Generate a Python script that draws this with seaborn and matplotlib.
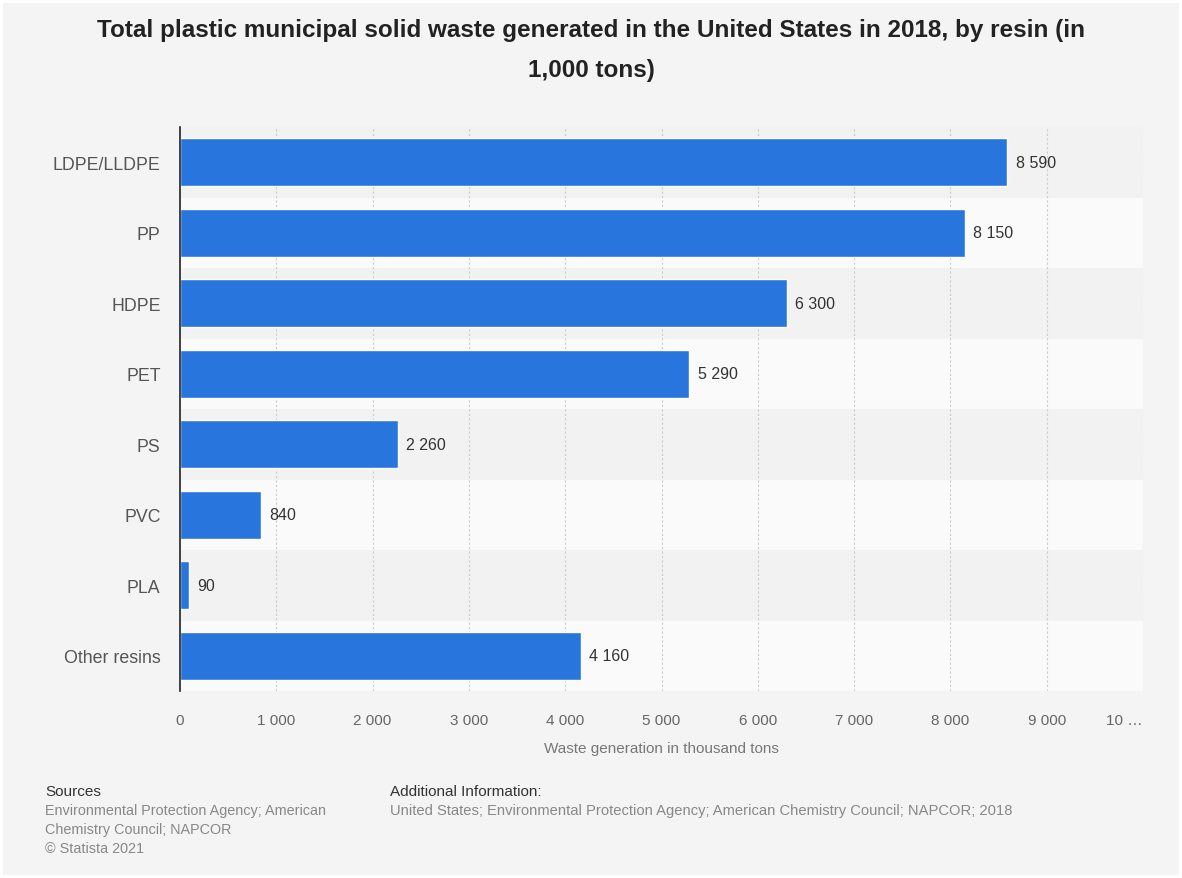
import pandas as pd
import matplotlib.pyplot as plt
import seaborn as sns
from matplotlib.patches import Rectangle

# data
resins = ["LDPE/LLDPE", "PP", "HDPE", "PET", "PS", "PVC", "PLA", "Other resins"]
waste_kt = [8590, 8150, 6300, 5290, 2260, 840, 90, 4160]
x_ticks = [0, 1000, 2000, 3000, 4000, 5000, 6000, 7000, 8000, 9000, 10000]
x_tick_labels = ["0", "1 000", "2 000", "3 000", "4 000", "5 000", "6 000",
                 "7 000", "8 000", "9 000", "10 …"]

BAR = "#2876dd"
BG = "#f4f4f4"

df = pd.DataFrame({"resin": resins, "waste": waste_kt})

sns.set_theme(style="white")
plt.rcParams["font.family"] = ["Liberation Sans", "DejaVu Sans"]

fig = plt.figure(figsize=(11.82, 8.79), dpi=100, facecolor="white")
fig.patches.append(Rectangle((3 / 1182, 3 / 879), 1 - 6 / 1182, 1 - 7 / 879,
                             transform=fig.transFigure, facecolor=BG,
                             edgecolor="none", zorder=-10))
ax = fig.add_axes([180 / 1182, 1 - 692 / 879, (1143 - 180) / 1182, (692 - 128) / 879])
ax.set_facecolor(BG)

# alternating row bands
for i in range(len(resins)):
    ax.axhspan(i - 0.5, i + 0.5, color="#f2f2f2" if i % 2 == 0 else "#fafafa",
               zorder=0, lw=0)

sns.barplot(data=df, x="waste", y="resin", color=BAR, width=0.68,
            saturation=1, ax=ax, zorder=3)

labels = [f"{v:,}".replace(",", " ") for v in waste_kt]
ax.bar_label(ax.containers[0], labels=labels, padding=6, fontsize=11.5,
             color="#333333")

ax.set_xlim(0, 10000)
ax.set_ylim(len(resins) - 0.5, -0.5)
ax.set_xticks(x_ticks)
ax.set_xticklabels(x_tick_labels)
ax.get_xticklabels()[-1].set_ha("right")
for x in x_ticks[1:]:
    ax.axvline(x, color="#cccccc", linestyle=(0, (2, 2)), linewidth=0.8, zorder=1)

ax.tick_params(axis="x", length=0, pad=16, labelsize=11, labelcolor="#666666")
ax.tick_params(axis="y", length=0, pad=14, labelsize=12.8, labelcolor="#555555")
ax.set_ylabel("")
ax.set_xlabel("Waste generation in thousand tons", fontsize=11,
              color="#777777", labelpad=10)

for s in ["top", "right", "bottom"]:
    ax.spines[s].set_visible(False)
ax.spines["left"].set_color("#222222")
ax.spines["left"].set_linewidth(1.2)
ax.spines["left"].set_zorder(5)

fig.text(0.5, 1 - 30 / 879,
         "Total plastic municipal solid waste generated in the United States in 2018, by resin (in",
         ha="center", va="center", fontsize=17.5, fontweight="bold", color="#222222")
fig.text(0.5, 1 - 70 / 879, "1,000 tons)",
         ha="center", va="center", fontsize=17.5, fontweight="bold", color="#222222")

fig.text(45 / 1182, 1 - 792 / 879, "Sources", fontsize=11,
         color="#333333", va="center")
for k, line in enumerate(["Environmental Protection Agency; American",
                          "Chemistry Council; NAPCOR", "© Statista 2021"]):
    fig.text(45 / 1182, 1 - (811 + 19 * k) / 879, line,
             fontsize=10.4, color="#888888", va="center")
fig.text(390 / 1182, 1 - 792 / 879, "Additional Information:", fontsize=11,
         color="#333333", va="center")
fig.text(390 / 1182, 1 - 811 / 879,
         "United States; Environmental Protection Agency; American Chemistry Council; NAPCOR; 2018",
         fontsize=10.6, color="#888888", va="center")

fig.savefig("out.png", dpi=100, facecolor="white")
plt.close(fig)
